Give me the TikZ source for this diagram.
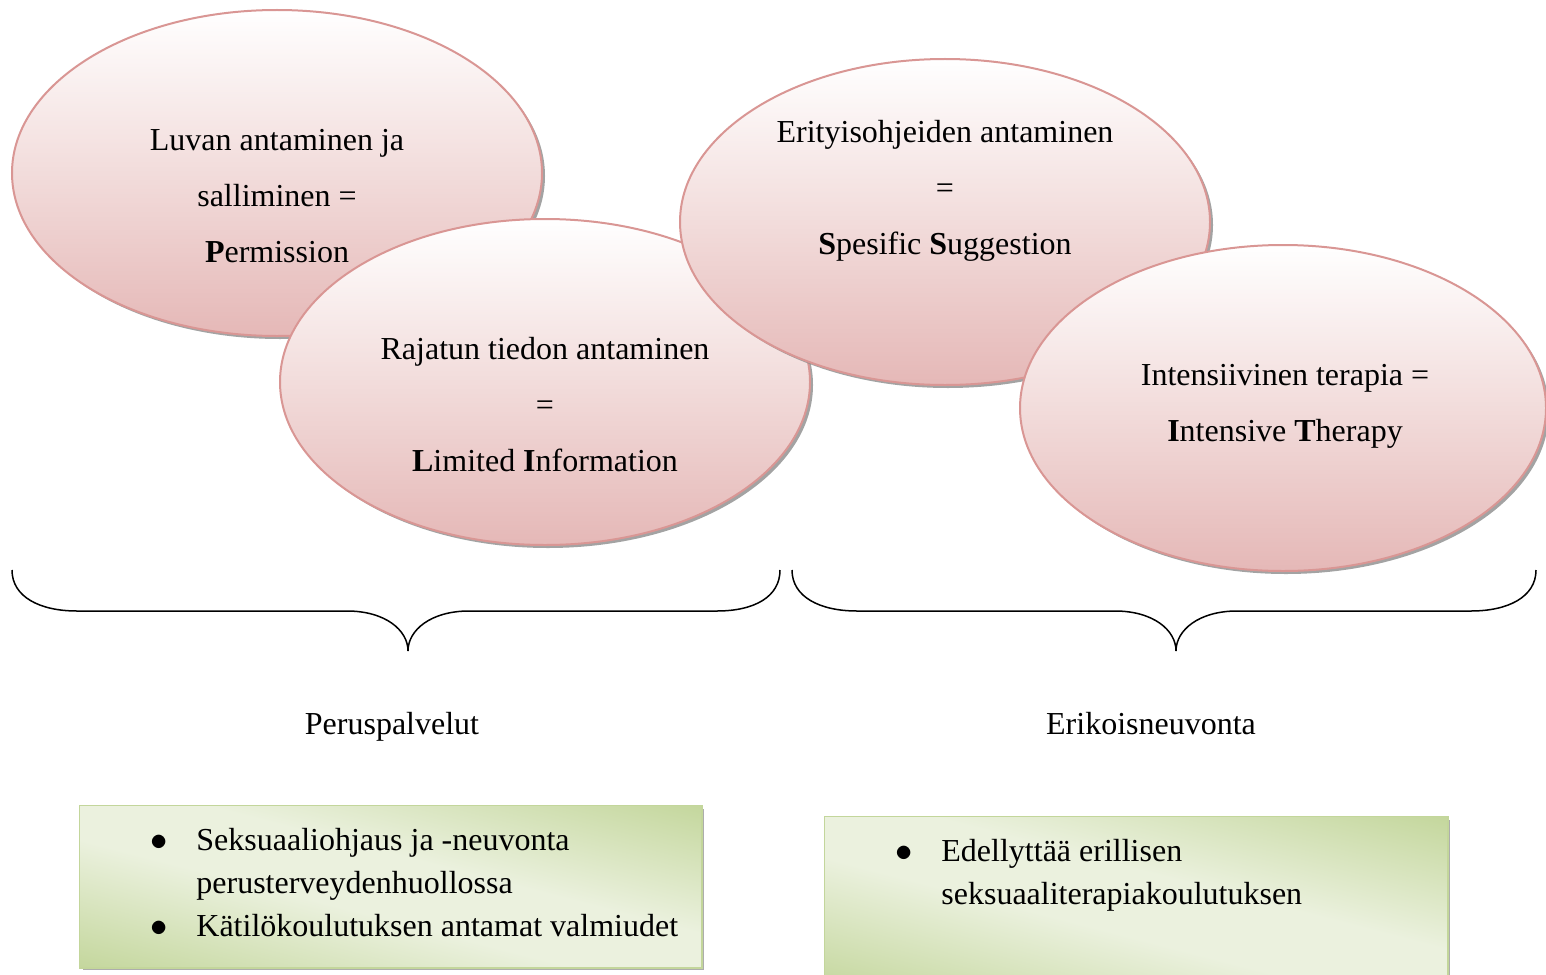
\documentclass[tikz,border=0pt]{standalone}
\usepackage{fontspec}
\setmainfont{Liberation Serif}
\usetikzlibrary{shapes.geometric,shadows,calc}
\definecolor{ebord}{HTML}{D99694}
\definecolor{ebot}{HTML}{E5B8B7}
\definecolor{emid}{HTML}{F2DCDB}
\definecolor{gdark}{HTML}{C3D69B}
\definecolor{glight}{HTML}{EBF1DE}
\definecolor{gbord}{HTML}{C3D69B}
\pgfdeclarehorizontalshading{greenband}{100bp}{color(0bp)=(gdark); color(25bp)=(gdark); color(45bp)=(glight); color(55bp)=(glight); color(75bp)=(gdark); color(100bp)=(gdark)}
\newcommand{\mybul}{$\bullet$}
\begin{document}
\begin{tikzpicture}[x=0.5pt,y=-0.5pt,
  oval/.style={ellipse, draw=ebord, line width=1pt, minimum width=265pt, minimum height=163pt, inner sep=0pt,
    top color=white, bottom color=ebot, middle color=emid,
    drop shadow={shadow xshift=1.5pt, shadow yshift=-1.5pt, fill=black!45, opacity=0.8}},
  ovtext/.style={align=center, font=\fontsize{16}{28}\selectfont, inner sep=0pt},
  gbox/.style={rectangle, draw=gbord, fill=gdark, line width=0.75pt, inner sep=0pt,
    drop shadow={shadow xshift=1.5pt, shadow yshift=-1.5pt, fill=black!40, opacity=0.8}},
  gshade/.style={shading=greenband},
  gline/.style={draw=gbord, line width=0.75pt},
  btext/.style={anchor=base west, inner sep=0pt, font=\fontsize{16}{21.5}\selectfont},
  lab/.style={anchor=base, inner sep=0pt, font=\fontsize{16}{20}\selectfont},
  brace/.style={draw=black, line width=0.75pt}]
\useasboundingbox (0,0) rectangle (1546,974);
\clip (0,0) rectangle (1546,974);

% ellipses
\node[oval] (e1) at (277,173) {};
\node[ovtext] (t1) at (277,196) {Luvan antaminen ja\\salliminen =\\\textbf{P}ermission};
\node[oval] (e2) at (545,382) {};
\node[ovtext] (t2) at (545,405) {Rajatun tiedon antaminen\\=\\\textbf{L}imited \textbf{I}nformation};
\node[oval] (e3) at (945,222) {};
\node[ovtext] (t3) at (945,191) {Erityisohjeiden antaminen\\=\\\textbf{S}pesific \textbf{S}uggestion};
\node[oval, minimum width=263pt] (e4) at (1283,408) {};
\node[ovtext] (t4) at (1285,406) {Intensiivinen terapia =\\\textbf{I}ntensive \textbf{T}herapy};

% braces
\coordinate (b1s) at (12,570);
\coordinate (b1l) at (77,611);
\coordinate (b1m) at (347,611);
\coordinate (b1t) at (408,651);
\coordinate (b1n) at (469,611);
\coordinate (b1r) at (717,611);
\coordinate (b1e) at (780,570);
\draw[brace] (b1s) .. controls (12,597) and (40,611) .. (b1l) -- (b1m)
  .. controls (385,611) and (408,630) .. (b1t)
  .. controls (408,630) and (431,611) .. (b1n) -- (b1r)
  .. controls (754,611) and (780,597) .. (b1e);
\coordinate (b2s) at (792,570);
\coordinate (b2l) at (857,611);
\coordinate (b2m) at (1115,611);
\coordinate (b2t) at (1176,651);
\coordinate (b2n) at (1237,611);
\coordinate (b2r) at (1471,611);
\coordinate (b2e) at (1536,570);
\draw[brace] (b2s) .. controls (792,597) and (820,611) .. (b2l) -- (b2m)
  .. controls (1153,611) and (1176,630) .. (b2t)
  .. controls (1176,630) and (1199,611) .. (b2n) -- (b2r)
  .. controls (1508,611) and (1536,597) .. (b2e);

% labels
\node[lab] (l1) at (392,734) {Peruspalvelut};
\node[lab] (l2) at (1151,734) {Erikoisneuvonta};

% green box 1
\node[gbox, minimum width=310.5pt, minimum height=80.5pt] (g1) at (390.5,886.5) {};
\begin{scope}
  \clip (g1.south west) rectangle (g1.north east);
  \shade[gshade, transform canvas={rotate around={75.5:(g1.center)}}]
    ($(g1.center)+(-160,-380)$) rectangle ($(g1.center)+(160,380)$);
\end{scope}
\draw[gline] (g1.south west) rectangle (g1.north east);
\node[btext] (g1t) at (150,850) {\renewcommand\arraystretch{1}\begin{tabular}[t]{@{}p{23pt}@{}l@{}}
\mybul&Seksuaaliohjaus ja -neuvonta\\
&perusterveydenhuollossa\\
\mybul&Kätilökoulutuksen antamat valmiudet
\end{tabular}};

% green box 2
\node[gbox, minimum width=311pt, minimum height=86.5pt] (g2) at (1136,903.5) {};
\begin{scope}
  \clip (g2.south west) rectangle (g2.north east);
  \shade[gshade, transform canvas={rotate around={75.5:(g2.center)}}]
    ($(g2.center)+(-165,-380)$) rectangle ($(g2.center)+(165,380)$);
\end{scope}
\draw[gline] (g2.south west) rectangle (g2.north east);
\node[btext] (g2t) at (895,861) {\renewcommand\arraystretch{1}\begin{tabular}[t]{@{}p{23pt}@{}l@{}}
\mybul&Edellyttää erillisen\\
&seksuaaliterapiakoulutuksen
\end{tabular}};
\end{tikzpicture}
\end{document}
